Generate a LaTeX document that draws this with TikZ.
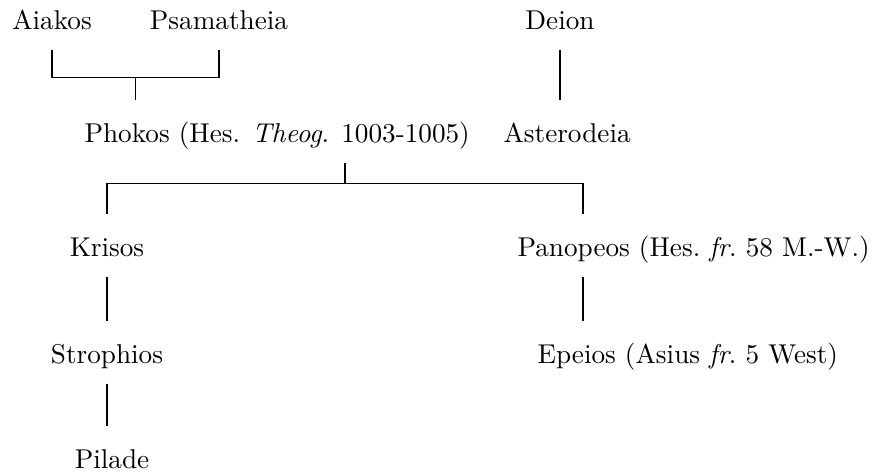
\documentclass[tikz,border=0pt]{standalone}
\usetikzlibrary{calc}
\begin{document}
\begin{tikzpicture}[x=0.3676pt, y=-0.3676pt,
    person/.style={inner sep=0pt, text height=15.4pt, text depth=7.4pt}]
            \useasboundingbox (0, 0) rectangle (874, 472);
            % first generation
            \node[person, anchor=base] (aiakos) at (52, 29) {Aiakos};
            \node[person, anchor=base] (psamatheia) at (219, 29) {Psamatheia};
            \node[person, anchor=base] (deion) at (560, 29) {Deion};
            % second generation
            \node[person, anchor=base west] (phokos) at (84, 142) {Phokos (Hes. \textit{Theog}. 1003-1005)};
            \node[person, anchor=base west] (asterodeia) at (503, 142) {Asterodeia};
            % third generation and below
            \node[person, anchor=base] (krisos) at (107, 256) {Krisos};
            \node[person, anchor=base west] (panopeos) at (517, 256) {\frenchspacing Panopeos (Hes. \textit{fr}. 58 M.-W.)};
            \node[person, anchor=base] (strophios) at (107, 363) {Strophios};
            \node[person, anchor=base west] (epeios) at (537, 363) {\frenchspacing Epeios (Asius \textit{fr}. 5 West)};
            \node[person, anchor=base] (pilade) at (112, 468) {Pilade};
            \coordinate (colR) at (583, 0);
            % Aiakos and Psamatheia
            \draw (aiakos.south) -- ++(0, 28) coordinate (b1) -| (psamatheia.south);
            \path ($(b1)!0.5!(psamatheia.south |- b1)$) coordinate (m1);
            \draw (m1) -- (m1 |- phokos.north);
            \draw (deion.south) -- (deion.south |- asterodeia.north);
            % children of Phokos
            \draw (krisos.north) -- ++(0, -30) coordinate (b2) -| (colR |- panopeos.north);
            \path ($(b2)!0.5!(colR |- b2)$) coordinate (m2);
            \draw (m2) -- (m2 |- phokos.south);
            \draw (krisos.south) -- (strophios.north);
            \draw (strophios.south) -- (strophios.south |- pilade.north);
            \draw (colR |- panopeos.south) -- (colR |- epeios.north);
\end{tikzpicture}
\end{document}
